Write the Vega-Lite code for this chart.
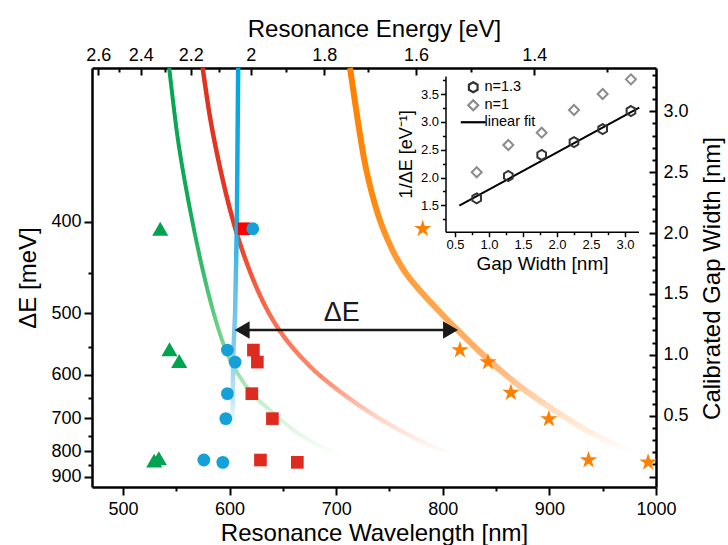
{
  "$schema": "https://vega.github.io/schema/vega-lite/v6.json",
  "width": 564,
  "height": 419,
  "autosize": "none",
  "padding": {"left": 92, "top": 68, "right": 72, "bottom": 58},
  "config": {
    "font": "Liberation Sans",
    "view": {"stroke": null},
    "axis": {
      "labelFont": "Liberation Sans", "titleFont": "Liberation Sans", "titleFontWeight": "normal",
      "domainColor": "black", "tickColor": "black", "labelColor": "black", "titleColor": "black",
      "grid": false, "labelOverlap": false, "labelFlush": false, "labelBound": false
    },
    "legend": {"labelFont": "Liberation Sans", "labelColor": "black"}
  },
  "datasets": {
    "points": [
      {"s": "tri", "wl": 535.0, "gap": 2.035},
      {"s": "tri", "wl": 543.7, "gap": 1.045},
      {"s": "tri", "wl": 552.8, "gap": 0.949},
      {"s": "tri", "wl": 529.3, "gap": 0.131},
      {"s": "tri", "wl": 533.7, "gap": 0.150},
      {"s": "sq2", "wl": 613.7, "gap": 2.035},
      {"s": "sq", "wl": 622.4, "gap": 1.039},
      {"s": "sq", "wl": 626.1, "gap": 0.940},
      {"s": "sq", "wl": 620.9, "gap": 0.681},
      {"s": "sq", "wl": 640.2, "gap": 0.476},
      {"s": "sq", "wl": 629.0, "gap": 0.136},
      {"s": "sq", "wl": 663.6, "gap": 0.117},
      {"s": "cir", "wl": 621.8, "gap": 2.035},
      {"s": "cir", "wl": 598.0, "gap": 1.039},
      {"s": "cir", "wl": 605.2, "gap": 0.940},
      {"s": "cir", "wl": 598.0, "gap": 0.681},
      {"s": "cir", "wl": 596.5, "gap": 0.476},
      {"s": "cir", "wl": 575.9, "gap": 0.136},
      {"s": "cir", "wl": 593.7, "gap": 0.117},
      {"s": "star", "wl": 781.2, "gap": 2.035},
      {"s": "star", "wl": 816.1, "gap": 1.039},
      {"s": "star", "wl": 842.4, "gap": 0.940},
      {"s": "star", "wl": 863.9, "gap": 0.689},
      {"s": "star", "wl": 899.5, "gap": 0.473},
      {"s": "star", "wl": 936.7, "gap": 0.136},
      {"s": "star", "wl": 992.6, "gap": 0.117}
    ],
    "curves": [
      {"c": "g", "wl": 543.4, "gap": 3.355},
      {"c": "g", "wl": 550.7, "gap": 2.823},
      {"c": "g", "wl": 562.9, "gap": 2.195},
      {"c": "g", "wl": 574.0, "gap": 1.729},
      {"c": "g", "wl": 585.4, "gap": 1.333},
      {"c": "g", "wl": 596.4, "gap": 1.039},
      {"c": "g", "wl": 616.0, "gap": 0.738},
      {"c": "g", "wl": 639.5, "gap": 0.533},
      {"c": "g", "wl": 662.0, "gap": 0.369},
      {"c": "g", "wl": 705.5, "gap": 0.163},
      {"c": "r", "wl": 574.8, "gap": 3.355},
      {"c": "r", "wl": 581.5, "gap": 2.961},
      {"c": "r", "wl": 592.8, "gap": 2.468},
      {"c": "r", "wl": 606.6, "gap": 2.002},
      {"c": "r", "wl": 617.2, "gap": 1.729},
      {"c": "r", "wl": 637.5, "gap": 1.333},
      {"c": "r", "wl": 646.6, "gap": 1.204},
      {"c": "r", "wl": 675.8, "gap": 0.902},
      {"c": "r", "wl": 705.7, "gap": 0.684},
      {"c": "r", "wl": 737.5, "gap": 0.492},
      {"c": "r", "wl": 753.4, "gap": 0.410},
      {"c": "r", "wl": 777.1, "gap": 0.300},
      {"c": "r", "wl": 808.1, "gap": 0.177},
      {"c": "b", "wl": 608.1, "gap": 3.355},
      {"c": "b", "wl": 606.8, "gap": 2.030},
      {"c": "b", "wl": 605.2, "gap": 1.333},
      {"c": "b", "wl": 603.7, "gap": 1.039},
      {"c": "b", "wl": 602.9, "gap": 0.629},
      {"c": "b", "wl": 602.7, "gap": 0.383},
      {"c": "o", "wl": 713.0, "gap": 3.355},
      {"c": "o", "wl": 718.8, "gap": 3.010},
      {"c": "o", "wl": 726.4, "gap": 2.599},
      {"c": "o", "wl": 736.5, "gap": 2.230},
      {"c": "o", "wl": 752.4, "gap": 1.866},
      {"c": "o", "wl": 763.4, "gap": 1.696},
      {"c": "o", "wl": 778.2, "gap": 1.532},
      {"c": "o", "wl": 795.5, "gap": 1.368},
      {"c": "o", "wl": 813.8, "gap": 1.204},
      {"c": "o", "wl": 833.0, "gap": 1.039},
      {"c": "o", "wl": 853.6, "gap": 0.875},
      {"c": "o", "wl": 876.8, "gap": 0.711},
      {"c": "o", "wl": 904.1, "gap": 0.547},
      {"c": "o", "wl": 934.1, "gap": 0.383},
      {"c": "o", "wl": 977.2, "gap": 0.194}
    ],
    "arrowline": [{"x1": 611.8, "x2": 807.3, "gap": 1.2036}],
    "arrowheads": [
      {"h": "L", "wl": 611.8, "gap": 1.2036},
      {"h": "R", "wl": 807.3, "gap": 1.2036}
    ],
    "label": [{"wl": 705.2, "gap": 1.341, "t": "ΔE"}],
    "inset": [
      {"n": "n=1.3", "gx": 0.819, "inv": 1.626},
      {"n": "n=1.3", "gx": 1.284, "inv": 2.027},
      {"n": "n=1.3", "gx": 1.775, "inv": 2.405},
      {"n": "n=1.3", "gx": 2.250, "inv": 2.638},
      {"n": "n=1.3", "gx": 2.672, "inv": 2.872},
      {"n": "n=1.3", "gx": 3.088, "inv": 3.196},
      {"n": "n=1", "gx": 0.819, "inv": 2.094},
      {"n": "n=1", "gx": 1.284, "inv": 2.585},
      {"n": "n=1", "gx": 1.775, "inv": 2.806},
      {"n": "n=1", "gx": 2.250, "inv": 3.214},
      {"n": "n=1", "gx": 2.672, "inv": 3.502},
      {"n": "n=1", "gx": 3.088, "inv": 3.766}
    ],
    "fit": [
      {"gx": 0.563, "inv": 1.493},
      {"gx": 3.21, "inv": 3.255}
    ]
  },
  "layer": [
    {
      "data": {"name": "points"},
      "mark": {"type": "point", "opacity": 0},
      "encoding": {
        "x": {"field": "wl", "type": "quantitative", "scale": {"domain": [471, 1000], "nice": false, "zero": false},
          "axis": {"orient": "bottom", "values": [500, 550, 600, 650, 700, 750, 800, 850, 900, 950, 1000],
            "labelExpr": "datum.value % 100 == 0 ? datum.label : ''", "format": "d",
            "tickSize": {"condition": {"test": "datum.value % 100 == 0", "value": 8}, "value": 4},
            "tickWidth": 2, "domainWidth": 2.5, "labelFontSize": 18, "labelPadding": 5,
            "title": "Resonance Wavelength [nm]", "titleFontSize": 24, "titlePadding": 3}},
        "y": {"field": "gap", "type": "quantitative", "scale": {"domain": [-0.0854, 3.3547], "nice": false, "zero": false},
          "axis": {"orient": "right",
            "values": [0, 0.1, 0.2, 0.3, 0.4, 0.5, 0.6, 0.7, 0.8, 0.9, 1.0, 1.1, 1.2, 1.3, 1.4, 1.5, 1.6, 1.7, 1.8, 1.9, 2.0, 2.1, 2.2, 2.3, 2.4, 2.5, 2.6, 2.7, 2.8, 2.9, 3.0, 3.1, 3.2, 3.3],
            "labelExpr": "(datum.value > 0.45 && datum.value < 3.05 && abs(datum.value*2 - round(datum.value*2)) < 0.001) ? format(datum.value, '.1f') : ''",
            "tickSize": {"condition": {"test": "abs(datum.value*2 - round(datum.value*2)) < 0.001", "value": -7}, "value": -4},
            "tickWidth": 2, "domainWidth": 2.5, "labelFontSize": 18, "labelPadding": 14,
            "title": "Calibrated Gap Width [nm]", "titleFontSize": 24, "titleAngle": 270,
            "titleX": 56, "titleY": 210, "titleAlign": "center", "titleBaseline": "middle"}}
      }
    },
    {
      "data": {"name": "points"},
      "mark": {"type": "point", "opacity": 0},
      "encoding": {
        "x": {"field": "wl", "type": "quantitative", "scale": {"domain": [471, 1000], "nice": false, "zero": false},
          "axis": {"orient": "top",
            "values": [476.92, 496, 516.67, 539.13, 563.64, 590.48, 620, 652.63, 688.89, 729.41, 775, 826.67, 885.71, 953.85],
            "labelExpr": "round(12400/datum.value) % 2 == 0 ? '' + round(12400/datum.value)/10 : ''",
            "tickSize": {"condition": {"test": "round(12400/datum.value) % 2 == 0", "value": -7}, "value": -4},
            "tickWidth": 2, "domainWidth": 2.5, "labelFontSize": 18, "labelPadding": 11,
            "title": "Resonance Energy [eV]", "titleFontSize": 24, "titlePadding": 2}},
        "y": {"field": "gap", "type": "quantitative", "scale": {"domain": [-0.0854, 3.3547], "nice": false, "zero": false},
          "axis": {"orient": "left",
            "values": [2.093, 1.6744, 1.3395, 1.0655, 0.8372, 0.644, 0.4784, 0.3349, 0.2093, 0.0985, 0],
            "labelExpr": "round(1000/(1.1111 + 0.6636*datum.value)/50) % 2 == 0 ? '' + round(1000/(1.1111 + 0.6636*datum.value)/50)*50 : ''",
            "tickSize": {"condition": {"test": "round(1000/(1.1111 + 0.6636*datum.value)/50) % 2 == 0", "value": 8}, "value": 4},
            "tickWidth": 2, "domainWidth": 2.5, "labelFontSize": 18, "labelPadding": 3,
            "title": "ΔE [meV]", "titleFontSize": 24, "titlePadding": 10}}
      }
    },
    {
      "data": {"name": "curves"},
      "transform": [{"filter": "datum.c == 'g'"}],
      "mark": {"type": "line", "interpolate": "monotone", "strokeWidth": 4,
        "stroke": {"gradient": "linear", "x1": 0, "y1": 0, "x2": 0, "y2": 1,
          "stops": [{"offset": 0, "color": "#00a651"}, {"offset": 0.35, "color": "#10aa58"}, {"offset": 0.55, "color": "#40c070"}, {"offset": 0.72, "color": "#7fd690"}, {"offset": 0.86, "color": "#c4efc8"}, {"offset": 1, "color": "#ffffff"}]}},
      "encoding": {
        "x": {"field": "wl", "type": "quantitative", "scale": {"domain": [471, 1000], "nice": false, "zero": false}, "axis": null},
        "y": {"field": "gap", "type": "quantitative", "scale": {"domain": [-0.0854, 3.3547], "nice": false, "zero": false}, "axis": null},
        "order": {"field": "gap", "sort": "descending"}
      }
    },
    {
      "data": {"name": "curves"},
      "transform": [{"filter": "datum.c == 'r'"}],
      "mark": {"type": "line", "interpolate": "monotone", "strokeWidth": 4.5,
        "stroke": {"gradient": "linear", "x1": 0, "y1": 0, "x2": 0, "y2": 1,
          "stops": [{"offset": 0, "color": "#e0301e"}, {"offset": 0.4, "color": "#e43a24"}, {"offset": 0.6, "color": "#fb6446"}, {"offset": 0.8, "color": "#ff8a6c"}, {"offset": 0.9, "color": "#ffd2c4"}, {"offset": 1, "color": "#ffffff"}]}},
      "encoding": {
        "x": {"field": "wl", "type": "quantitative", "scale": {"domain": [471, 1000], "nice": false, "zero": false}, "axis": null},
        "y": {"field": "gap", "type": "quantitative", "scale": {"domain": [-0.0854, 3.3547], "nice": false, "zero": false}, "axis": null},
        "order": {"field": "gap", "sort": "descending"}
      }
    },
    {
      "data": {"name": "curves"},
      "transform": [{"filter": "datum.c == 'b'"}],
      "mark": {"type": "line", "interpolate": "linear", "strokeWidth": 4.5,
        "stroke": {"gradient": "linear", "x1": 0, "y1": 0, "x2": 0, "y2": 1,
          "stops": [{"offset": 0, "color": "#00a8e0"}, {"offset": 0.42, "color": "#1aaee2"}, {"offset": 0.6, "color": "#62bfe8"}, {"offset": 0.8, "color": "#8ccdee"}, {"offset": 0.92, "color": "#c8e8f6"}, {"offset": 1, "color": "#ffffff"}]}},
      "encoding": {
        "x": {"field": "wl", "type": "quantitative", "scale": {"domain": [471, 1000], "nice": false, "zero": false}, "axis": null},
        "y": {"field": "gap", "type": "quantitative", "scale": {"domain": [-0.0854, 3.3547], "nice": false, "zero": false}, "axis": null},
        "order": {"field": "gap", "sort": "descending"}
      }
    },
    {
      "data": {"name": "curves"},
      "transform": [{"filter": "datum.c == 'o'"}],
      "mark": {"type": "line", "interpolate": "monotone", "strokeWidth": 6,
        "stroke": {"gradient": "linear", "x1": 0, "y1": 0, "x2": 0, "y2": 1,
          "stops": [{"offset": 0, "color": "#ff8000"}, {"offset": 0.35, "color": "#ff8a10"}, {"offset": 0.6, "color": "#ffa448"}, {"offset": 0.78, "color": "#ffb678"}, {"offset": 0.88, "color": "#ffdcbc"}, {"offset": 1, "color": "#ffffff"}]}},
      "encoding": {
        "x": {"field": "wl", "type": "quantitative", "scale": {"domain": [471, 1000], "nice": false, "zero": false}, "axis": null},
        "y": {"field": "gap", "type": "quantitative", "scale": {"domain": [-0.0854, 3.3547], "nice": false, "zero": false}, "axis": null},
        "order": {"field": "gap", "sort": "descending"}
      }
    },
    {
      "data": {"name": "arrowline"},
      "mark": {"type": "rule", "strokeWidth": 2.5, "color": "#1a1a1a"},
      "encoding": {
        "x": {"field": "x1", "type": "quantitative", "scale": {"domain": [471, 1000], "nice": false, "zero": false}, "axis": null},
        "x2": {"field": "x2"},
        "y": {"field": "gap", "type": "quantitative", "scale": {"domain": [-0.0854, 3.3547], "nice": false, "zero": false}, "axis": null}
      }
    },
    {
      "data": {"name": "arrowheads"},
      "mark": {"type": "point", "filled": true, "opacity": 1, "size": 300, "color": "#1a1a1a", "strokeWidth": 0},
      "encoding": {
        "x": {"field": "wl", "type": "quantitative", "scale": {"domain": [471, 1000], "nice": false, "zero": false}, "axis": null},
        "y": {"field": "gap", "type": "quantitative", "scale": {"domain": [-0.0854, 3.3547], "nice": false, "zero": false}, "axis": null},
        "shape": {"field": "h", "type": "nominal", "scale": {"domain": ["L", "R"], "range": ["triangle-left", "triangle-right"]}, "legend": null}
      }
    },
    {
      "data": {"name": "label"},
      "mark": {"type": "text", "fontSize": 27, "font": "Liberation Sans", "color": "#1a1a1a", "baseline": "middle", "align": "center"},
      "encoding": {
        "x": {"field": "wl", "type": "quantitative", "scale": {"domain": [471, 1000], "nice": false, "zero": false}, "axis": null},
        "y": {"field": "gap", "type": "quantitative", "scale": {"domain": [-0.0854, 3.3547], "nice": false, "zero": false}, "axis": null},
        "text": {"field": "t"}
      }
    },
    {
      "data": {"name": "points"},
      "transform": [{"filter": "datum.s == 'tri'"}],
      "mark": {"type": "point", "filled": true, "opacity": 1, "strokeWidth": 0, "shape": "triangle-up", "size": 260, "color": "#00a350"},
      "encoding": {
        "x": {"field": "wl", "type": "quantitative", "scale": {"domain": [471, 1000], "nice": false, "zero": false}, "axis": null},
        "y": {"field": "gap", "type": "quantitative", "scale": {"domain": [-0.0854, 3.3547], "nice": false, "zero": false}, "axis": null}
      }
    },
    {
      "data": {"name": "points"},
      "transform": [{"filter": "datum.s == 'sq' || datum.s == 'sq2'"}],
      "mark": {"type": "point", "filled": true, "opacity": 1, "strokeWidth": 0, "shape": "square", "size": 160},
      "encoding": {
        "x": {"field": "wl", "type": "quantitative", "scale": {"domain": [471, 1000], "nice": false, "zero": false}, "axis": null},
        "y": {"field": "gap", "type": "quantitative", "scale": {"domain": [-0.0854, 3.3547], "nice": false, "zero": false}, "axis": null},
        "color": {"condition": {"test": "datum.s == 'sq2'", "value": "#ff0000"}, "value": "#df2a1f"}
      }
    },
    {
      "data": {"name": "points"},
      "transform": [{"filter": "datum.s == 'cir'"}],
      "mark": {"type": "point", "filled": true, "opacity": 1, "strokeWidth": 0, "shape": "circle", "size": 165, "color": "#14a0d8"},
      "encoding": {
        "x": {"field": "wl", "type": "quantitative", "scale": {"domain": [471, 1000], "nice": false, "zero": false}, "axis": null},
        "y": {"field": "gap", "type": "quantitative", "scale": {"domain": [-0.0854, 3.3547], "nice": false, "zero": false}, "axis": null}
      }
    },
    {
      "data": {"name": "points"},
      "transform": [{"filter": "datum.s == 'star'"}],
      "mark": {"type": "point", "filled": true, "opacity": 1, "strokeWidth": 0, "size": 330, "color": "#ff8000",
        "shape": "M0,-1L0.2245,-0.309L0.951,-0.309L0.363,0.118L0.588,0.809L0,0.382L-0.588,0.809L-0.363,0.118L-0.951,-0.309L-0.2245,-0.309Z"},
      "encoding": {
        "x": {"field": "wl", "type": "quantitative", "scale": {"domain": [471, 1000], "nice": false, "zero": false}, "axis": null},
        "y": {"field": "gap", "type": "quantitative", "scale": {"domain": [-0.0854, 3.3547], "nice": false, "zero": false}, "axis": null}
      }
    },
    {
      "data": {"name": "fit"},
      "mark": {"type": "line", "strokeWidth": 2, "color": "black"},
      "encoding": {
        "x": {"field": "gx", "type": "quantitative", "scale": {"domain": [0.36, 3.199], "range": [353.5, 546.5], "nice": false, "zero": false}, "axis": null},
        "y": {"field": "inv", "type": "quantitative", "scale": {"domain": [1.025, 3.826], "range": [163.7, 8], "nice": false, "zero": false}, "axis": null}
      }
    },
    {
      "data": {"name": "inset"},
      "mark": {"type": "point", "filled": false, "strokeWidth": 2, "opacity": 1},
      "encoding": {
        "x": {"field": "gx", "type": "quantitative", "scale": {"domain": [0.36, 3.199], "range": [353.5, 546.5], "nice": false, "zero": false},
          "axis": {"orient": "bottom", "offset": -255.3,
            "values": [0.5, 0.75, 1.0, 1.25, 1.5, 1.75, 2.0, 2.25, 2.5, 2.75, 3.0],
            "labelExpr": "abs(datum.value*2 - round(datum.value*2)) < 0.001 ? format(datum.value, '.1f') : ''",
            "tickSize": {"condition": {"test": "abs(datum.value*2 - round(datum.value*2)) < 0.001", "value": 5}, "value": 3},
            "tickWidth": 1.5, "domainWidth": 1.5, "labelFontSize": 13, "labelPadding": 2,
            "title": "Gap Width [nm]", "titleFontSize": 19, "titlePadding": 3}},
        "y": {"field": "inv", "type": "quantitative", "scale": {"domain": [1.025, 3.826], "range": [163.7, 8], "nice": false, "zero": false},
          "axis": {"orient": "left", "offset": -353.5,
            "values": [1.25, 1.5, 1.75, 2.0, 2.25, 2.5, 2.75, 3.0, 3.25, 3.5, 3.75],
            "labelExpr": "abs(datum.value*2 - round(datum.value*2)) < 0.001 ? format(datum.value, '.1f') : ''",
            "tickSize": {"condition": {"test": "abs(datum.value*2 - round(datum.value*2)) < 0.001", "value": 5}, "value": 3},
            "tickWidth": 1.5, "domainWidth": 1.5, "labelFontSize": 13, "labelPadding": 2,
            "title": "1/ΔE [eV⁻¹]", "titleFontSize": 18, "titlePadding": 5}},
        "shape": {"field": "n", "type": "nominal",
          "scale": {"domain": ["n=1.3", "n=1", "linear fit"], "range": ["M0,-1L0.866,-0.5L0.866,0.5L0,1L-0.866,0.5L-0.866,-0.5Z", "diamond", "M-2.5,0L2.5,0"]},
          "legend": {"orient": "none", "legendX": 374, "legendY": 12, "title": null, "labelFontSize": 14.5, "symbolStrokeWidth": 2.2, "symbolSize": 100, "rowPadding": -2, "padding": 0, "labelOffset": 4}},
        "color": {"field": "n", "type": "nominal",
          "scale": {"domain": ["n=1.3", "n=1", "linear fit"], "range": ["#333333", "#8c8c8c", "#000000"]},
          "legend": {"orient": "none", "legendX": 374, "legendY": 12, "title": null, "labelFontSize": 14.5, "symbolStrokeWidth": 2.2, "symbolSize": 100, "rowPadding": -2, "padding": 0, "labelOffset": 4}},
        "size": {"value": 100}
      }
    }
  ],
  "resolve": {
    "scale": {"x": "independent", "y": "independent", "shape": "independent", "color": "independent", "size": "independent"},
    "axis": {"x": "independent", "y": "independent"}
  }
}
